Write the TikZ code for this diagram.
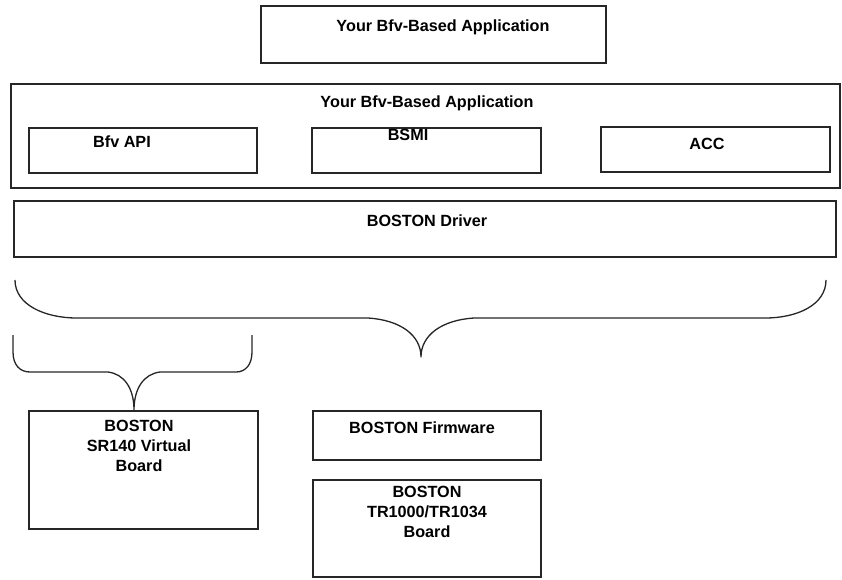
\documentclass[tikz,border=0pt]{standalone}
\usepackage{fontspec}
\setmainfont{Liberation Sans}
\begin{document}
\begin{tikzpicture}[x=1pt,y=-1pt,
  box/.style={draw=black!85, line width=1.6pt, fill=white, inner sep=0pt},
  txt/.style={font=\fontsize{16.2}{20}\selectfont\bfseries, inner sep=0pt, align=center, text=black},
  brace/.style={draw=black!85, line width=1.3pt, line join=round}]
\useasboundingbox (0,0) rectangle (842,579);
% boxes
\node[box, minimum width=345pt, minimum height=57pt] (top) at (433.5,34.5) {};
\node[txt] (toptxt) at (443,27) {Your Bfv-Based Application};
\node[box, minimum width=829pt, minimum height=104pt] (app) at (425.5,136) {};
\node[txt] (apptxt) at (427,103) {Your Bfv-Based Application};
\node[box, minimum width=228pt, minimum height=45pt] (bfv) at (143,150.5) {};
\node[txt] (bfvtxt) at (122,142) {Bfv API};
\node[box, minimum width=229pt, minimum height=45pt] (bsmi) at (426.5,150.5) {};
\node[txt] (bsmitxt) at (408,135) {BSMI};
\node[box, minimum width=229pt, minimum height=45pt] (acc) at (715.5,149.5) {};
\node[txt] (acctxt) at (707,144) {ACC};
\node[box, minimum width=822pt, minimum height=56pt] (drv) at (425,229) {};
\node[txt] (drvtxt) at (427,221) {BOSTON Driver};
\node[box, minimum width=229pt, minimum height=118pt] (sr) at (143.5,470) {};
\node[txt, anchor=north] (srtxt) at (139,420) {BOSTON\\SR140 Virtual\\Board};
\node[box, minimum width=228pt, minimum height=49pt] (fw) at (427,435.5) {};
\node[txt] (fwtxt) at (422,428) {BOSTON Firmware};
\node[box, minimum width=228pt, minimum height=97pt] (tr) at (427,528.5) {};
\node[txt, anchor=north] (trtxt) at (427,486) {BOSTON\\TR1000/TR1034\\Board};
% big brace
\coordinate (bl) at (15,280);
\coordinate (br) at (826,280);
\coordinate (btip) at (421,357);
\draw[brace] (bl) .. controls (15,305) and (45,318) .. (77,318) -- (368,318)
  .. controls (400,320) and (421,335) .. (btip)
  .. controls (421,335) and (442,320) .. (474,318) -- (765,318)
  .. controls (797,318) and (826,305) .. (br);
% small brace
\coordinate (sl) at (13,335);
\coordinate (sr2) at (252,335);
\coordinate (stip) at (sr.north -| 134,0);
\draw[brace] (sl) -- (13,352) .. controls (13,365) and (20,372) .. (30,372) -- (108,372)
  .. controls (124,374) and (134,388) .. (stip)
  .. controls (134,388) and (144,374) .. (160,372) -- (236,372)
  .. controls (246,372) and (252,364) .. (252,352) -- (sr2);
\end{tikzpicture}
\end{document}
